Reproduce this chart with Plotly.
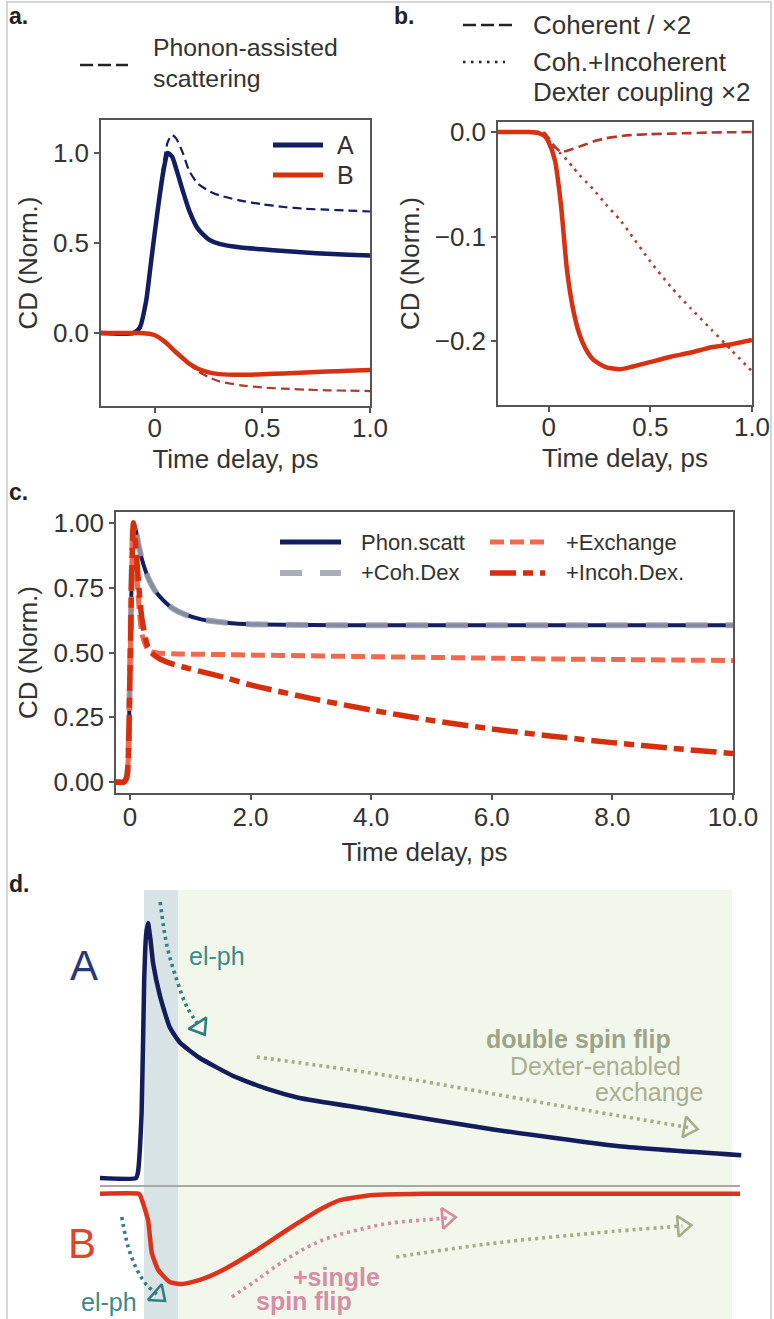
import math
import plotly.graph_objects as go

W, H = 774, 1319
FONT = "Liberation Sans"
TXT = "#333333"
NAVY = "#131e62"
RED = "#d9300f"
DRED = "#b23a2c"

# ---------------- panel a data ----------------
a_t = [-0.25, -0.1, -0.07, -0.04, -0.02, 0.0, 0.02, 0.04, 0.06, 0.08, 0.1, 0.13,
       0.16, 0.2, 0.25, 0.3, 0.4, 0.5, 0.6, 0.7, 0.8, 0.9, 1.0]
a_A_solid = [0, 0, 0.03, 0.18, 0.37, 0.56, 0.74, 0.9, 1.0, 0.98, 0.91, 0.79,
             0.68, 0.58, 0.52, 0.495, 0.475, 0.465, 0.455, 0.447, 0.44, 0.435, 0.43]
a_A_phonon = [0, 0, 0.03, 0.18, 0.37, 0.56, 0.76, 0.94, 1.06, 1.1, 1.08, 1.0,
              0.9, 0.83, 0.79, 0.765, 0.735, 0.715, 0.7, 0.69, 0.685, 0.68, 0.675]
a_B_solid = [0, 0, 0, -0.002, -0.005, -0.012, -0.025, -0.042, -0.062, -0.086, -0.108, -0.14,
             -0.17, -0.198, -0.218, -0.228, -0.232, -0.229, -0.224, -0.219, -0.214, -0.209, -0.205]
a_B_phonon = [0, 0, 0, -0.002, -0.005, -0.012, -0.025, -0.042, -0.062, -0.086, -0.108, -0.14,
              -0.172, -0.212, -0.245, -0.268, -0.29, -0.302, -0.309, -0.314, -0.318, -0.32, -0.322]

# ---------------- panel b data ----------------
b_t = [-0.25, -0.1, -0.05, -0.02, 0.0, 0.03, 0.06, 0.09, 0.12, 0.15, 0.18, 0.22,
       0.28, 0.35, 0.4, 0.5, 0.6, 0.7, 0.8, 0.9, 1.0]
b_B = [0, 0, -0.001, -0.004, -0.01, -0.027, -0.07, -0.133, -0.17, -0.193, -0.207, -0.218,
       -0.225, -0.227, -0.225, -0.22, -0.215, -0.211, -0.206, -0.203, -0.199]
b_coherent = [0, 0, 0, -0.001, -0.006, -0.014, -0.019, -0.018, -0.016, -0.014, -0.012, -0.009,
              -0.006, -0.004, -0.003, -0.002, -0.0015, -0.001, -0.0005, -0.0002, 0]
b_coh_incoh = [0, 0, 0, -0.002, -0.008, -0.015, -0.021, -0.027, -0.034, -0.041, -0.047, -0.055,
               -0.069, -0.084, -0.097, -0.124, -0.148, -0.169, -0.189, -0.209, -0.229]

# ---------------- panel c data ----------------
c_t = [-0.23, -0.1, -0.05, 0.0, 0.03, 0.06, 0.1, 0.15, 0.2, 0.3, 0.4, 0.5, 0.7, 0.9,
       1.2, 1.6, 2.0, 3.0, 4.0, 5.0, 6.0, 7.0, 8.0, 9.0, 10.0]
c_phon_scatt = [0, 0, 0.02, 0.4, 0.8, 1.0, 0.97, 0.91, 0.86, 0.79, 0.745, 0.715, 0.672, 0.648,
                0.627, 0.615, 0.609, 0.606, 0.605, 0.605, 0.605, 0.605, 0.605, 0.605, 0.605]
c_coh_dex = [0, 0, 0.02, 0.4, 0.8, 1.0, 0.97, 0.91, 0.86, 0.79, 0.745, 0.715, 0.672, 0.648,
             0.627, 0.615, 0.609, 0.606, 0.605, 0.605, 0.605, 0.605, 0.605, 0.605, 0.605]
c_exchange = [0, 0, 0.02, 0.4, 0.8, 1.0, 0.85, 0.68, 0.57, 0.51, 0.5, 0.497, 0.495, 0.494,
              0.493, 0.492, 0.49, 0.487, 0.484, 0.481, 0.478, 0.475, 0.473, 0.471, 0.469]
c_incoh_dex = [0, 0, 0.02, 0.4, 0.8, 1.0, 0.9, 0.75, 0.63, 0.52, 0.49, 0.475, 0.456, 0.443,
               0.425, 0.402, 0.375, 0.323, 0.278, 0.238, 0.205, 0.177, 0.152, 0.13, 0.11]
c_xticks = [0, 2, 4, 6, 8, 10]
c_xticktext = ["0", "2.0", "4.0", "6.0", "8.0", "10.0"]
c_yticks = [0, 0.25, 0.5, 0.75, 1.0]
c_yticktext = ["0.00", "0.25", "0.50", "0.75", "1.00"]

# ---------------- panel d (schematic) data ----------------
dA_t = [0, 0.56, 0.59, 0.65, 0.69, 0.72, 0.75, 0.79, 0.83, 0.94, 1.09, 1.25, 1.56,
        2.08, 2.6, 3.1, 4.2, 6.17, 8.11, 10.02]
dA_v = [0.031, 0.031, 0.05, 0.285, 0.8, 0.98, 1.027, 0.96, 0.87, 0.74, 0.62, 0.56, 0.5,
        0.43, 0.38, 0.345, 0.3, 0.22, 0.155, 0.12]
dB_t = [0, 0.6, 0.625, 0.75, 0.81, 0.91, 1.09, 1.28, 1.56, 1.92, 2.45, 2.97, 3.48,
        3.75, 4.27, 5.05, 10.0]
dB_v = [-0.03, -0.03, -0.035, -0.133, -0.262, -0.328, -0.375, -0.383, -0.367, -0.328,
        -0.25, -0.164, -0.086, -0.055, -0.035, -0.03, -0.03]
d_base_t = [0, 10]
d_base_v = [0, 0]
arrow_elph_top = ([0.94, 1.05, 1.20, 1.36, 1.56], [1.109, 0.934, 0.805, 0.699, 0.621])
arrow_double_top = ([2.45, 4.63, 6.95, 8.5, 9.2], [0.504, 0.426, 0.324, 0.258, 0.228])
arrow_elph_bot = ([0.34, 0.44, 0.58, 0.73, 0.91], [-0.121, -0.238, -0.328, -0.387, -0.426])
arrow_single = ([2.06, 2.45, 2.97, 3.48, 4.02, 4.53, 5.05, 5.42],
                [-0.434, -0.367, -0.277, -0.211, -0.172, -0.145, -0.133, -0.125])
arrow_double_bot = ([4.63, 6.17, 7.72, 9.1], [-0.277, -0.223, -0.184, -0.156])

# ---------------- layout helpers ----------------
def dom_x(p0, p1):
    return [p0 / W, p1 / W]

def dom_y(top, bottom):
    return [1 - bottom / H, 1 - top / H]

def px(x):
    return x / W

def py(y):
    return 1 - y / H

fig = go.Figure()

def line(x, y, color, width, dash="solid", xa="x", ya="y", opacity=1.0, smooth=0.6):
    fig.add_trace(go.Scatter(x=x, y=y, mode="lines", xaxis=xa, yaxis=ya, opacity=opacity,
                             line=dict(color=color, width=width, dash=dash, shape="spline",
                                       smoothing=smooth),
                             showlegend=False, hoverinfo="skip"))

# panel a
line(a_t, a_A_phonon, NAVY, 2.2, "9px,5px")
line(a_t, a_A_solid, NAVY, 4.5)
line(a_t, a_B_phonon, DRED, 2.2, "9px,5px")
line(a_t, a_B_solid, RED, 4.5)
# panel b
line(b_t, b_coh_incoh, DRED, 2.6, "2.6px,5.2px", "x2", "y2")
line(b_t, b_coherent, DRED, 2.6, "10px,5px", "x2", "y2")
line(b_t, b_B, RED, 4.5, "solid", "x2", "y2")
# panel c
GRAY_C = "rgb(155,160,172)"
line(c_t, c_phon_scatt, NAVY, 4, "solid", "x3", "y3")
line(c_t, c_coh_dex, GRAY_C, 6, "22px,18px", "x3", "y3", 0.85)
line(c_t, c_exchange, "#f26a4e", 5, "14px,6px", "x3", "y3")
line(c_t, c_incoh_dex, "#d62f0d", 5.5, "26px,7px,10px,7px", "x3", "y3")
# panel d
line(d_base_t, d_base_v, "#a8a8a8", 2, "solid", "x4", "y4")
line(dA_t, dA_v, "#141c5c", 4.5, "solid", "x4", "y4", smooth=0.5)
line(dB_t, dB_v, "#e0321a", 4.5, "solid", "x4", "y4", smooth=0.5)

# panel d geometry
d_xdom = dom_x(0, 774)
d_ydom = dom_y(875, 1319)
d_xr = [-1.5625, 10.53125]
d_yr = [(1186 - 1319) / 256, (1186 - 875) / 256]
sx = W * (d_xdom[1] - d_xdom[0]) / (d_xr[1] - d_xr[0])
sy = H * (d_ydom[1] - d_ydom[0]) / (d_yr[1] - d_yr[0])

def arrow(path, color):
    xs, ys = path
    fig.add_trace(go.Scatter(x=xs, y=ys, mode="lines", xaxis="x4", yaxis="y4",
                             line=dict(color=color, width=3.6, dash="3px,4px", shape="spline"),
                             showlegend=False, hoverinfo="skip"))
    ddx = (xs[-1] - xs[-2]) * sx
    ddy = -(ys[-1] - ys[-2]) * sy
    ang = math.degrees(math.atan2(ddy, ddx))
    fig.add_trace(go.Scatter(x=[xs[-1]], y=[ys[-1]], mode="markers", xaxis="x4", yaxis="y4",
                             marker=dict(symbol="triangle-right-open", size=18, angle=ang,
                                         color=color, line=dict(width=2.6, color=color)),
                             showlegend=False, hoverinfo="skip"))

TEAL = "#2f7f80"
OLIVE = "#a5ad8b"
PINK = "#d98ba3"
arrow(arrow_elph_top, TEAL)
arrow(arrow_double_top, OLIVE)
arrow(arrow_elph_bot, TEAL)
arrow(arrow_single, PINK)
arrow(arrow_double_bot, OLIVE)

axis_common = dict(showline=True, mirror=True, linecolor="#555555", linewidth=1.5,
                   ticks="outside", ticklen=5, tickwidth=1.5, tickcolor="#555555",
                   showgrid=False, zeroline=False, automargin=False,
                   tickfont=dict(family=FONT, size=26, color=TXT))
title_font = dict(family=FONT, size=26, color=TXT)

fig.update_layout(
    width=W, height=H, autosize=False, margin=dict(l=0, r=0, t=0, b=0, autoexpand=False),
    paper_bgcolor="white", plot_bgcolor="white", showlegend=False,
    xaxis=dict(domain=dom_x(101, 370), range=[-0.25, 1.0], anchor="y",
               tickvals=[0, 0.5, 1.0], ticktext=["0", "0.5", "1.0"], ticklabelstandoff=-7,
               title=dict(text="Time delay, ps", font=title_font, standoff=8), **axis_common),
    yaxis=dict(domain=dom_y(120, 406), range=[-0.405, 1.183], anchor="x",
               tickvals=[0, 0.5, 1.0], ticktext=["0.0", "0.5", "1.0"],
               title=dict(text="CD (Norm.)", font=title_font, standoff=8), **axis_common),
    xaxis2=dict(domain=dom_x(498, 752), range=[-0.25, 1.0], anchor="y2",
                tickvals=[0, 0.5, 1.0], ticktext=["0", "0.5", "1.0"], ticklabelstandoff=-7,
                title=dict(text="Time delay, ps", font=title_font, standoff=8), **axis_common),
    yaxis2=dict(domain=dom_y(122, 405), range=[-0.2612, 0.0096], anchor="x2",
                tickvals=[0, -0.1, -0.2], ticktext=["0.0", "\u22120.1", "\u22120.2"],
                title=dict(text="CD (Norm.)", font=title_font, standoff=8), **axis_common),
    xaxis3=dict(domain=dom_x(116, 733), range=[-0.23, 10], anchor="y3",
                tickvals=c_xticks, ticktext=c_xticktext, ticklabelstandoff=-5,
                title=dict(text="Time delay, ps", font=title_font, standoff=12), **axis_common),
    yaxis3=dict(domain=dom_y(512, 793), range=[-0.0425, 1.0425], anchor="x3",
                tickvals=c_yticks, ticktext=c_yticktext,
                title=dict(text="CD (Norm.)", font=title_font, standoff=8), **axis_common),
    xaxis4=dict(domain=d_xdom, range=d_xr, anchor="y4", visible=False, automargin=False),
    yaxis4=dict(domain=d_ydom, range=d_yr, anchor="x4", visible=False, automargin=False),
)

shapes = []
# outer frame
shapes.append(dict(type="rect", xref="paper", yref="paper", x0=px(7), x1=px(771),
                   y0=py(1330), y1=py(2), line=dict(color="#d6d6d6", width=2)))
# panel d backgrounds
shapes.append(dict(type="rect", xref="x4", yref="y4", x0=1.22, x1=9.875, y0=d_yr[0] - 0.1,
                   y1=1.156, fillcolor="#f2f7ec", line=dict(width=0), layer="below"))
shapes.append(dict(type="rect", xref="x4", yref="y4", x0=0.6875, x1=1.22, y0=d_yr[0] - 0.1,
                   y1=1.156, fillcolor="#d8e3e6", line=dict(width=0), layer="below"))

def legend_line(x0, x1, y, color, width, dash="solid", opacity=1.0):
    shapes.append(dict(type="line", xref="paper", yref="paper", x0=px(x0), x1=px(x1),
                       y0=py(y), y1=py(y), opacity=opacity,
                       line=dict(color=color, width=width, dash=dash)))

annotations = []

def text(x, y, s, size=25, color=TXT, xanchor="left", bold=False, xref="paper", yref="paper"):
    if xref == "paper":
        x, y = px(x), py(y)
    annotations.append(dict(x=x, y=y, xref=xref, yref=yref, text=("<b>%s</b>" % s) if bold else s,
                            showarrow=False, xanchor=xanchor, yanchor="middle",
                            font=dict(family=FONT, size=size, color=color)))

# panel labels
text(7, 16, "a.", 23, "#222222", bold=True)
text(392, 16, "b.", 23, "#222222", bold=True)
text(7, 492, "c.", 23, "#222222", bold=True)
text(7, 884, "d.", 23, "#222222", bold=True)

# panel a legends
legend_line(80, 128, 65, "#222222", 2.5, "13px,5px")
text(151, 47, "Phonon-assisted", 24.8)
text(151, 78, "scattering", 24.8)
legend_line(273, 323, 145, NAVY, 5)
legend_line(273, 323, 175, RED, 5)
text(335, 145, "A")
text(335, 175, "B")

# panel b legend
legend_line(463, 515, 25, "#222222", 2.5, "13px,5px")
legend_line(463, 505, 62, "#222222", 2.5, "2.5px,5.5px")
text(531, 25, "Coherent / \u00d72", 26)
text(531, 62, "Coh.+Incoherent", 26)
text(531, 92, "Dexter coupling \u00d72", 26)

# panel c legend
legend_line(280, 341, 542, NAVY, 5)
legend_line(280, 341, 573, GRAY_C, 6, "22px,18px", 0.85)
legend_line(490, 545, 542, "#f26a4e", 5, "14px,6px")
legend_line(490, 545, 573, "#d62f0d", 5.5, "26px,7px,10px,7px")
text(359, 542, "Phon.scatt", 22)
text(359, 573, "+Coh.Dex", 22)
text(564, 542, "+Exchange", 22)
text(564, 573, "+Incoh.Dex.", 22)

# panel d texts
text(-0.25, 0.863, "A", 42, "#283580", "center", xref="x4", yref="y4")
text(-0.28, -0.223, "B", 42, "#e0442a", "center", xref="x4", yref="y4")
text(1.36, 0.9, "el-ph", 25, "#3a8b8c", "left", xref="x4", yref="y4")
text(0.14, (1186 - 1302) / 256, "el-ph", 25, "#3a8b8c", "center", xref="x4", yref="y4")
text(7.48, (1186 - 1039) / 256, "double spin flip", 25, "#9ea486", "center", True, "x4", "y4")
text(9.11, (1186 - 1066) / 256, "Dexter-enabled", 25, "#a9ae93", "right", xref="x4", yref="y4")
text(9.45, (1186 - 1092) / 256, "exchange", 25, "#a9ae93", "right", xref="x4", yref="y4")
text(3.70, (1186 - 1277) / 256, "+single", 25, "#d68ea4", "center", True, "x4", "y4")
text(3.19, (1186 - 1301) / 256, "spin flip", 25, "#d68ea4", "center", True, "x4", "y4")

fig.update_layout(shapes=shapes, annotations=annotations)
fig.write_html(
    "out.html",
    config={"displayModeBar": False, "responsive": False},
    post_script="document.body.style.margin='0';document.body.style.padding='0';"
                "document.documentElement.style.overflow='hidden';"
                "document.body.style.overflow='hidden';",
)
